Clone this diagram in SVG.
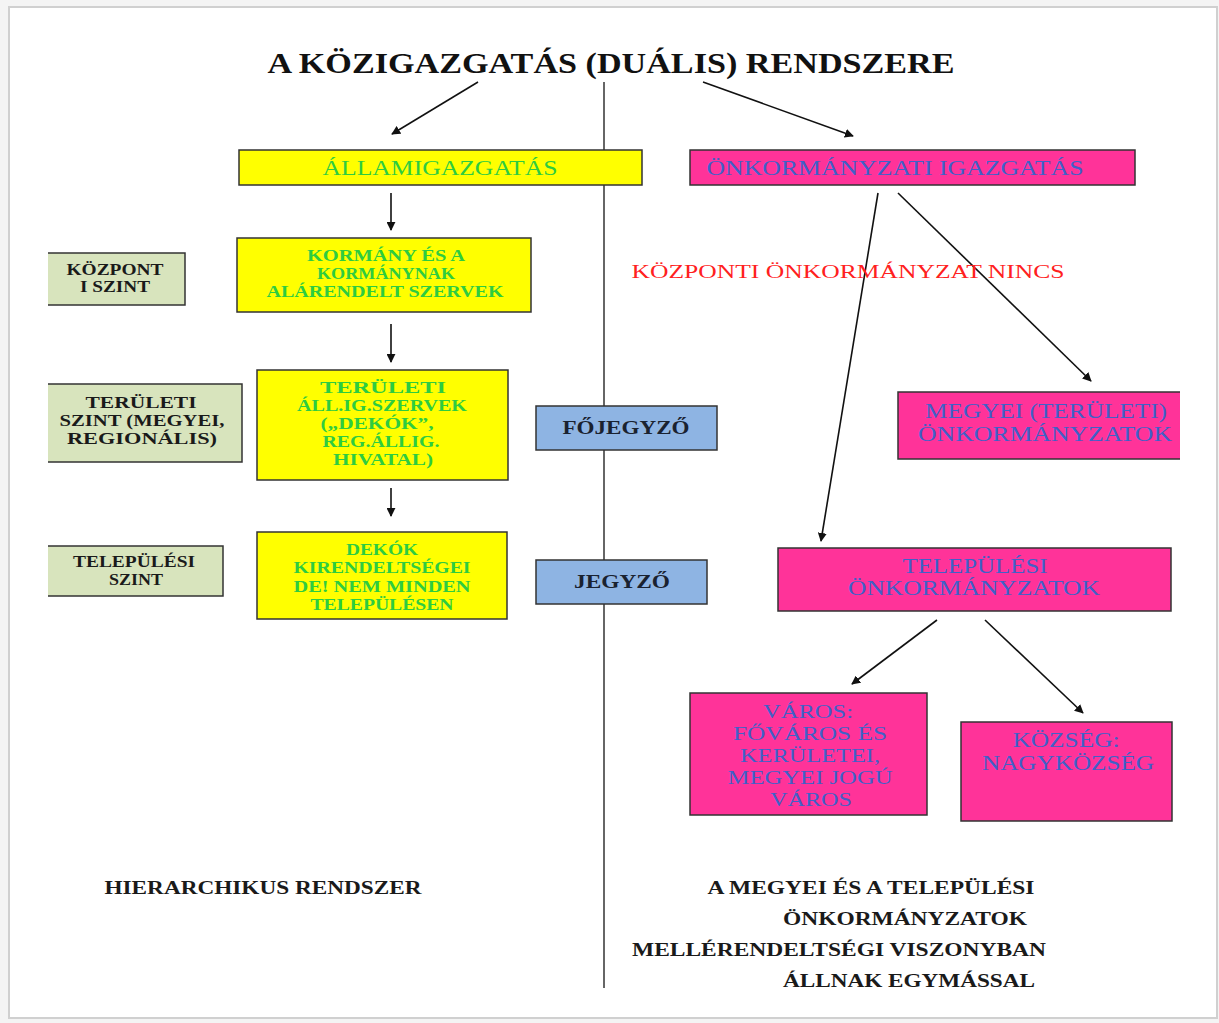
<svg xmlns="http://www.w3.org/2000/svg" width="1219" height="1023" viewBox="0 0 1219 1023">
<defs>
<marker id="ah" viewBox="0 0 10 10" refX="9" refY="5" markerWidth="9" markerHeight="9" markerUnits="userSpaceOnUse" orient="auto">
<path d="M0,0 L10,5 L0,10 z" fill="#111"/>
</marker>
<style>
text{font-family:"Liberation Serif","Times New Roman",serif;text-anchor:middle}
.b{font-weight:bold}
.yel{fill:#ffff00;stroke:#333;stroke-width:1.5}
.pink{fill:#ff3399;stroke:#333;stroke-width:1.5}
.lab{fill:#d8e4bd}
.labs{fill:none;stroke:#333;stroke-width:1.5}
.blue{fill:#8eb4e3;stroke:#333;stroke-width:1.5}
.gt{fill:#2ecc40;font-size:17px;font-weight:bold}
.pt{fill:#4060c8;font-size:21px}
.pv{fill:#4060c8;font-size:18px}
.dk{fill:#1a1a1a;font-size:16px;font-weight:bold}
.bt{fill:#1a1a1a;font-size:18px;font-weight:bold}
.conn{stroke:#111;stroke-width:1.6;fill:none;marker-end:url(#ah)}
</style>
</defs>
<rect x="0" y="0" width="1219" height="1023" fill="#f4f4f4"/>
<rect x="9" y="7" width="1208" height="1011" fill="#ffffff" stroke="#d0d0d0" stroke-width="2"/>

<text class="b" x="611" y="73" font-size="30" fill="#111" textLength="687" lengthAdjust="spacingAndGlyphs">A KÖZIGAZGATÁS (DUÁLIS) RENDSZERE</text>

<g id="divider"><line x1="604" y1="82" x2="604" y2="988" stroke="#333" stroke-width="1.5"/></g>

<g id="connectors">
<line class="conn" x1="478" y1="82" x2="392" y2="134"/>
<line class="conn" x1="703" y1="82" x2="853" y2="136"/>
<line class="conn" x1="391" y1="193" x2="391" y2="230"/>
<line class="conn" x1="391" y1="324" x2="391" y2="362"/>
<line class="conn" x1="391" y1="488" x2="391" y2="516"/>
<line class="conn" x1="878" y1="193" x2="821" y2="541"/>
<line class="conn" x1="898" y1="193" x2="1091" y2="381"/>
<line class="conn" x1="937" y1="620" x2="852" y2="684"/>
<line class="conn" x1="985" y1="620" x2="1083" y2="713"/>
</g>

<g id="allamigazgatas">
<rect class="yel" x="239" y="150" width="403" height="35"/>
<text x="440" y="175" font-size="21" fill="#2ecc40" textLength="235" lengthAdjust="spacingAndGlyphs">ÁLLAMIGAZGATÁS</text>
</g>

<g id="onkormanyzati">
<rect class="pink" x="690" y="150" width="445" height="35"/>
<text x="895" y="175" font-size="21" fill="#4060c8" textLength="377" lengthAdjust="spacingAndGlyphs">ÖNKORMÁNYZATI IGAZGATÁS</text>
</g>

<g id="kormany">
<rect class="yel" x="237" y="238" width="294" height="74"/>
<text class="gt" x="386" y="261" textLength="158" lengthAdjust="spacingAndGlyphs">KORMÁNY ÉS A</text>
<text class="gt" x="386" y="279" textLength="138" lengthAdjust="spacingAndGlyphs">KORMÁNYNAK</text>
<text class="gt" x="385" y="297" textLength="237" lengthAdjust="spacingAndGlyphs">ALÁRENDELT SZERVEK</text>
</g>

<g id="kozpont-szint">
<rect class="lab" x="48" y="253" width="137" height="52"/>
<path class="labs" d="M48,253 H185 V305 H48"/>
<text class="dk" x="115" y="275" textLength="97" lengthAdjust="spacingAndGlyphs">KÖZPONT</text>
<text class="dk" x="115" y="292" textLength="70" lengthAdjust="spacingAndGlyphs">I SZINT</text>
</g>

<g id="teruleti">
<rect class="yel" x="257" y="370" width="251" height="110"/>
<text class="gt" x="383" y="393" textLength="126" lengthAdjust="spacingAndGlyphs">TERÜLETI</text>
<text class="gt" x="382" y="411" textLength="170" lengthAdjust="spacingAndGlyphs">ÁLL.IG.SZERVEK</text>
<text class="gt" x="377" y="429" textLength="113" lengthAdjust="spacingAndGlyphs">(„DEKÓK”,</text>
<text class="gt" x="381" y="447" textLength="117" lengthAdjust="spacingAndGlyphs">REG.ÁLLIG.</text>
<text class="gt" x="383" y="465" textLength="100" lengthAdjust="spacingAndGlyphs">HIVATAL)</text>
</g>

<g id="teruleti-szint">
<rect class="lab" x="48" y="384" width="194" height="78"/>
<path class="labs" d="M48,384 H242 V462 H48"/>
<text class="dk" x="141" y="408" textLength="111" lengthAdjust="spacingAndGlyphs">TERÜLETI</text>
<text class="dk" x="142" y="426" textLength="165" lengthAdjust="spacingAndGlyphs">SZINT (MEGYEI,</text>
<text class="dk" x="142" y="444" textLength="150" lengthAdjust="spacingAndGlyphs">REGIONÁLIS)</text>
</g>

<g id="dekok">
<rect class="yel" x="257" y="532" width="250" height="87"/>
<text class="gt" x="382" y="555" textLength="72" lengthAdjust="spacingAndGlyphs">DEKÓK</text>
<text class="gt" x="382" y="573" textLength="177" lengthAdjust="spacingAndGlyphs">KIRENDELTSÉGEI</text>
<text class="gt" x="382" y="592" textLength="177" lengthAdjust="spacingAndGlyphs">DE! NEM MINDEN</text>
<text class="gt" x="382" y="610" textLength="143" lengthAdjust="spacingAndGlyphs">TELEPÜLÉSEN</text>
</g>

<g id="telepulesi-szint">
<rect class="lab" x="48" y="546" width="175" height="50"/>
<path class="labs" d="M48,546 H223 V596 H48"/>
<text class="dk" x="134" y="567" textLength="122" lengthAdjust="spacingAndGlyphs">TELEPÜLÉSI</text>
<text class="dk" x="136" y="585" textLength="54" lengthAdjust="spacingAndGlyphs">SZINT</text>
</g>

<g id="fojegyzo">
<rect class="blue" x="536" y="406" width="181" height="44"/>
<text class="b" x="626" y="434" font-size="19" fill="#1a2230" textLength="127" lengthAdjust="spacingAndGlyphs">FŐJEGYZŐ</text>
</g>

<g id="jegyzo">
<rect class="blue" x="536" y="560" width="171" height="44"/>
<text class="b" x="622" y="588" font-size="19" fill="#1a2230" textLength="96" lengthAdjust="spacingAndGlyphs">JEGYZŐ</text>
</g>

<g id="kozponti-nincs">
<text x="848" y="278" font-size="19" fill="#ff2020" textLength="433" lengthAdjust="spacingAndGlyphs">KÖZPONTI ÖNKORMÁNYZAT NINCS</text>
</g>

<g id="megyei">
<rect x="898" y="392" width="282" height="67" fill="#ff3399"/>
<path d="M1180,392 H898 V459 H1180" fill="none" stroke="#333" stroke-width="1.5"/>
<text class="pt" x="1046" y="418" textLength="242" lengthAdjust="spacingAndGlyphs">MEGYEI (TERÜLETI)</text>
<text class="pt" x="1045" y="441" textLength="254" lengthAdjust="spacingAndGlyphs">ÖNKORMÁNYZATOK</text>
</g>

<g id="telepulesi">
<rect class="pink" x="778" y="548" width="393" height="63"/>
<text class="pt" x="975" y="573" textLength="145" lengthAdjust="spacingAndGlyphs">TELEPÜLÉSI</text>
<text class="pt" x="974" y="595" textLength="252" lengthAdjust="spacingAndGlyphs">ÖNKORMÁNYZATOK</text>
</g>

<g id="varos">
<rect class="pink" x="690" y="693" width="237" height="122"/>
<text class="pv" x="808" y="718" textLength="90" lengthAdjust="spacingAndGlyphs">VÁROS:</text>
<text class="pv" x="810" y="740" textLength="154" lengthAdjust="spacingAndGlyphs">FŐVÁROS ÉS</text>
<text class="pv" x="810" y="762" textLength="140" lengthAdjust="spacingAndGlyphs">KERÜLETEI,</text>
<text class="pv" x="810" y="784" textLength="165" lengthAdjust="spacingAndGlyphs">MEGYEI JOGÚ</text>
<text class="pv" x="811" y="806" textLength="82" lengthAdjust="spacingAndGlyphs">VÁROS</text>
</g>

<g id="kozseg">
<rect class="pink" x="961" y="722" width="211" height="99"/>
<text class="pt" x="1066" y="747" textLength="107" lengthAdjust="spacingAndGlyphs">KÖZSÉG:</text>
<text class="pt" x="1068" y="770" textLength="172" lengthAdjust="spacingAndGlyphs">NAGYKÖZSÉG</text>
</g>

<g id="hierarchikus">
<text class="bt" x="263" y="894" textLength="317" lengthAdjust="spacingAndGlyphs">HIERARCHIKUS RENDSZER</text>
</g>

<g id="mellerendeltseg">
<text class="bt" x="871" y="894" textLength="327" lengthAdjust="spacingAndGlyphs">A MEGYEI ÉS A TELEPÜLÉSI</text>
<text class="bt" x="905" y="925" textLength="244" lengthAdjust="spacingAndGlyphs">ÖNKORMÁNYZATOK</text>
<text class="bt" x="839" y="956" textLength="414" lengthAdjust="spacingAndGlyphs">MELLÉRENDELTSÉGI VISZONYBAN</text>
<text class="bt" x="909" y="987" textLength="252" lengthAdjust="spacingAndGlyphs">ÁLLNAK EGYMÁSSAL</text>
</g>
</svg>
